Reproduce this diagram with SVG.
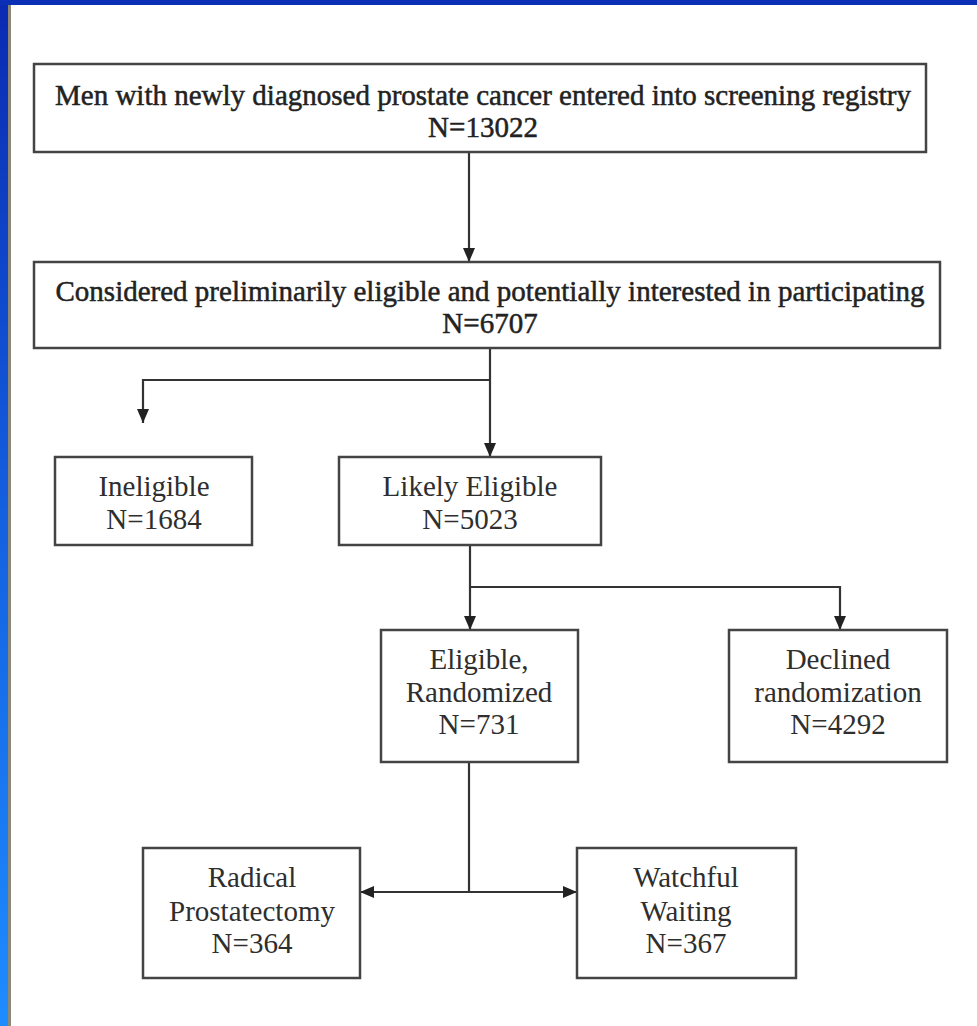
<svg xmlns="http://www.w3.org/2000/svg" width="977" height="1026" viewBox="0 0 977 1026">
<defs>
<linearGradient id="lb" x1="0" y1="0" x2="0" y2="1">
<stop offset="0" stop-color="#0a2ab0"/>
<stop offset="0.5" stop-color="#1460e0"/>
<stop offset="1" stop-color="#1e8cff"/>
</linearGradient>
<marker id="ah" viewBox="0 0 14 12" refX="14" refY="6" markerWidth="14" markerHeight="12" markerUnits="userSpaceOnUse" orient="auto">
<path d="M0,0 L14,6 L0,12 Z" fill="#222"/>
</marker>
<style>
.box{fill:#fff;stroke:#444;stroke-width:2.5}
.t{font-family:"Liberation Serif","Times New Roman",serif;font-size:29px;fill:#2e2e2e;text-anchor:middle}
.b{fill:#222;stroke:#222;stroke-width:0.5}
.c{fill:none;stroke:#333;stroke-width:2.2}
</style>
</defs>
<rect x="0" y="0" width="977" height="1026" fill="#fff"/>
<rect x="0" y="0" width="8" height="1026" fill="url(#lb)"/>
<rect x="8" y="0" width="3" height="1026" fill="#8c8878"/>
<rect x="0" y="0" width="977" height="5" fill="#0b2fb5"/>

<g id="connectors">
<path class="c" d="M469,152 V262" marker-end="url(#ah)"/>
<path class="c" d="M490,348 V457" marker-end="url(#ah)"/>
<path class="c" d="M490,380 H143 V423" marker-end="url(#ah)"/>
<path class="c" d="M470,545 V630" marker-end="url(#ah)"/>
<path class="c" d="M470,587 H840 V630" marker-end="url(#ah)"/>
<path class="c" d="M469,762 V892"/>
<path class="c" d="M469,892 H360" marker-end="url(#ah)"/>
<path class="c" d="M469,892 H577" marker-end="url(#ah)"/>
</g>

<g id="registry">
<rect class="box" x="34" y="64" width="892" height="88"/>
<text class="t b" x="483" y="105">Men with newly diagnosed prostate cancer entered into screening registry</text>
<text class="t b" x="483" y="137">N=13022</text>
</g>
<g id="preliminary">
<rect class="box" x="34" y="262" width="906" height="86"/>
<text class="t b" x="490" y="301">Considered preliminarily eligible and potentially interested in participating</text>
<text class="t b" x="490" y="333">N=6707</text>
</g>
<g id="ineligible">
<rect class="box" x="55" y="457" width="197" height="88"/>
<text class="t" x="154" y="496">Ineligible</text>
<text class="t" x="154" y="529">N=1684</text>
</g>
<g id="likely">
<rect class="box" x="339" y="457" width="262" height="88"/>
<text class="t" x="470" y="496">Likely Eligible</text>
<text class="t" x="470" y="529">N=5023</text>
</g>
<g id="randomized">
<rect class="box" x="381" y="630" width="197" height="132"/>
<text class="t" x="479" y="669">Eligible,</text>
<text class="t" x="479" y="702">Randomized</text>
<text class="t" x="479" y="734">N=731</text>
</g>
<g id="declined">
<rect class="box" x="729" y="630" width="218" height="132"/>
<text class="t" x="838" y="669">Declined</text>
<text class="t" x="838" y="702">randomization</text>
<text class="t" x="838" y="734">N=4292</text>
</g>
<g id="prostatectomy">
<rect class="box" x="143" y="848" width="217" height="130"/>
<text class="t" x="252" y="887">Radical</text>
<text class="t" x="252" y="921">Prostatectomy</text>
<text class="t" x="252" y="953">N=364</text>
</g>
<g id="watchful">
<rect class="box" x="577" y="848" width="219" height="130"/>
<text class="t" x="686" y="887">Watchful</text>
<text class="t" x="686" y="921">Waiting</text>
<text class="t" x="686" y="953">N=367</text>
</g>
</svg>
